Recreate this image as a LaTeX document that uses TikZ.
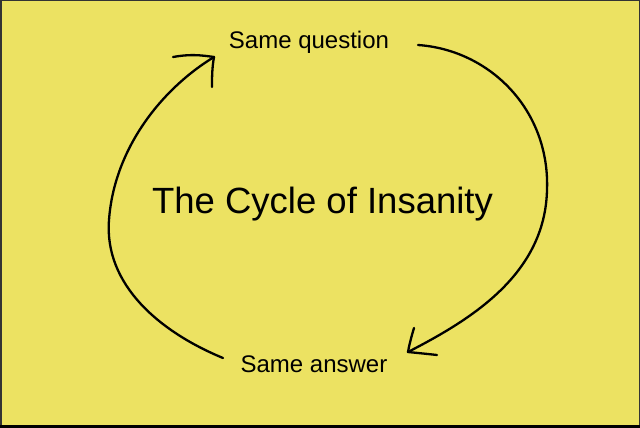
\documentclass[tikz,border=0pt]{standalone}
\usepackage{fontspec}
\setmainfont{Liberation Sans}
\definecolor{bgyellow}{RGB}{236,226,98}
\begin{document}
\begin{tikzpicture}[x=1pt,y=-1pt,
  label/.style={font=\fontsize{24}{28}\selectfont, anchor=base, inner sep=0pt},
  title/.style={font=\fontsize{36.5}{42}\selectfont, anchor=base, inner sep=0pt},
  pen/.style={line width=2.3pt, line cap=round, line join=round, black}]
\fill[bgyellow] (0,0) rectangle (640,428);
\useasboundingbox (0,0) rectangle (640,428);
\draw[black!80, line width=1.5pt] (0.75,0.75) -- (639.25,0.75) -- (639.25,427.25) -- (0.75,427.25) -- cycle;
\fill[black] (0,424.5) rectangle (640,428);

\node[label] (q) at (309,49) {Same question};
\node[label] (a) at (314,372) {Same answer};
\node[title] (t) at (322.5,213) {The Cycle of Insanity};

% left arrow: from "Same answer" up to "Same question"
\coordinate (ls) at (223,358);
\coordinate (lm) at (109,220);
\coordinate (lt) at (214,57);
\draw[pen] (ls) .. controls (160,332) and (104,285) .. (lm)
               .. controls (114,150) and (160,90) .. (lt);
\coordinate (lh1) at (173,57);
\coordinate (lh2) at (212,87);
\draw[pen] (lh1) .. controls (190,54) and (200,55) .. (lt);
\draw[pen] (lt) .. controls (212,68) and (212,78) .. (lh2);

% right arrow: from "Same question" down to "Same answer"
\coordinate (rs) at (418,45);
\coordinate (rm) at (547,190);
\coordinate (rt) at (408,352);
\draw[pen] (rs) .. controls (490,50) and (550,110) .. (rm)
               .. controls (545,275) and (470,320) .. (rt);
\coordinate (rh1) at (414,328);
\coordinate (rh2) at (437,355);
\draw[pen] (rh1) .. controls (411,338) and (409,346) .. (rt);
\draw[pen] (rt) .. controls (418,353) and (428,354) .. (rh2);
\end{tikzpicture}
\end{document}
